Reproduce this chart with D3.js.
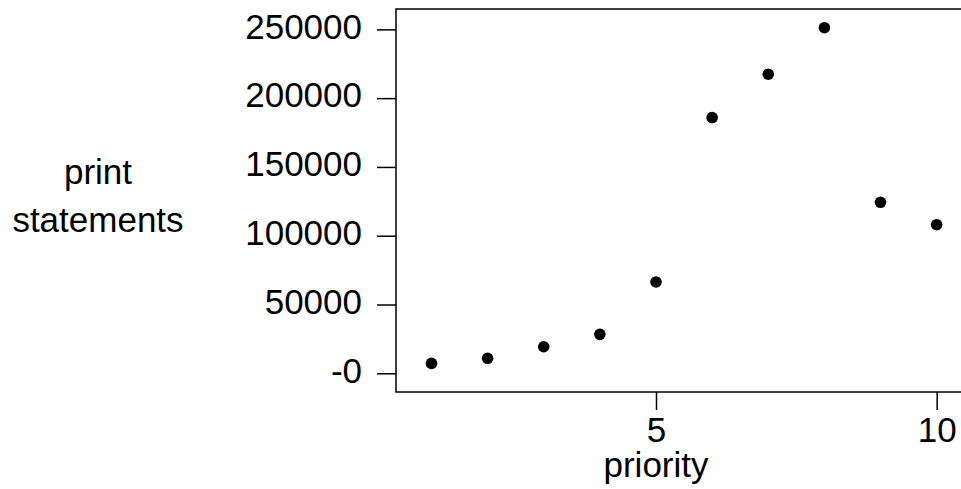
<!DOCTYPE html>
<html lang="en">
	<head>
		<meta charset="utf-8">
		<title>print statements by priority</title>
		<script type="text/javascript" src="https://d3js.org/d3.v7.min.js"></script>
		<style type="text/css">
			body { margin: 0; background: #fff; }
			text { font-family: "Liberation Sans", Arial, sans-serif; fill: #000; }
		</style>
	</head>
	<body>

		<div id="chart"></div>

		<script type="text/javascript">

    // data
    var priority = [1, 2, 3, 4, 5, 6, 7, 8, 9, 10];
    var prints = [7200, 10900, 19300, 28300, 66400, 185900, 217400, 251200, 124300, 108000];
    var yTicks = [0, 50000, 100000, 150000, 200000, 250000];
    var yTickLabels = ["-0", "50000", "100000", "150000", "200000", "250000"];
    var xTicks = [5, 10];

    var w = 961;
    var h = 489;
    var plotLeft = 396, plotTop = 9, plotBottom = 392;

    var svg = d3.select("#chart")
        .append("svg")
        .attr("width", w)
        .attr("height", h);

    var xScale = d3.scaleLinear()
        .domain([0.368, 5])
        .range([plotLeft, 656]);

    var yScale = d3.scaleLinear()
        .domain([-13600, 264800])
        .range([plotBottom, plotTop]);

    var yAxis = d3.axisLeft(yScale)
        .tickValues(yTicks)
        .tickSize(19)
        .tickPadding(15)
        .tickFormat(function(d, i){ return yTickLabels[i]; });

    var xAxis = d3.axisBottom(xScale)
        .tickValues(xTicks)
        .tickSize(18)
        .tickPadding(7)
        .tickFormat(d3.format("d"));

    var gy = svg.append("g")
        .attr("transform", "translate(" + plotLeft + ",0)")
        .call(yAxis);

    var gx = svg.append("g")
        .attr("transform", "translate(0," + plotBottom + ")")
        .call(xAxis);

    [gy, gx].forEach(function(g){
        g.select(".domain").remove();
        g.selectAll(".tick line").attr("stroke", "#000").attr("stroke-width", 1.5);
        g.selectAll(".tick text")
            .attr("font-size", 35)
            .attr("font-family", "Liberation Sans, Arial, sans-serif")
            .attr("fill", "#000");
    });
    gy.selectAll(".tick text").attr("dy", "0.25em");
    gx.selectAll(".tick text").attr("dy", "0.72em");

    // plot frame (runs off the right edge)
    svg.append("rect")
        .attr("x", plotLeft)
        .attr("y", plotTop)
        .attr("width", 620)
        .attr("height", plotBottom - plotTop)
        .attr("fill", "none")
        .attr("stroke", "#000")
        .attr("stroke-width", 1.5);

    svg.selectAll("circle")
        .data(priority)
        .enter()
        .append("circle")
        .attr("cx", function(d){ return xScale(d); })
        .attr("cy", function(d, i){ return yScale(prints[i]); })
        .attr("r", 5.8)
        .style("fill", "#000");

    svg.append("text")
        .attr("x", xScale(5))
        .attr("y", 477)
        .attr("text-anchor", "middle")
        .attr("font-size", 35)
        .text("priority");

    var ylab = svg.append("text")
        .attr("text-anchor", "middle")
        .attr("font-size", 35);
    ylab.append("tspan").attr("x", 98).attr("y", 184).text("print");
    ylab.append("tspan").attr("x", 98).attr("y", 232).text("statements");

		</script>
	</body>
</html>
